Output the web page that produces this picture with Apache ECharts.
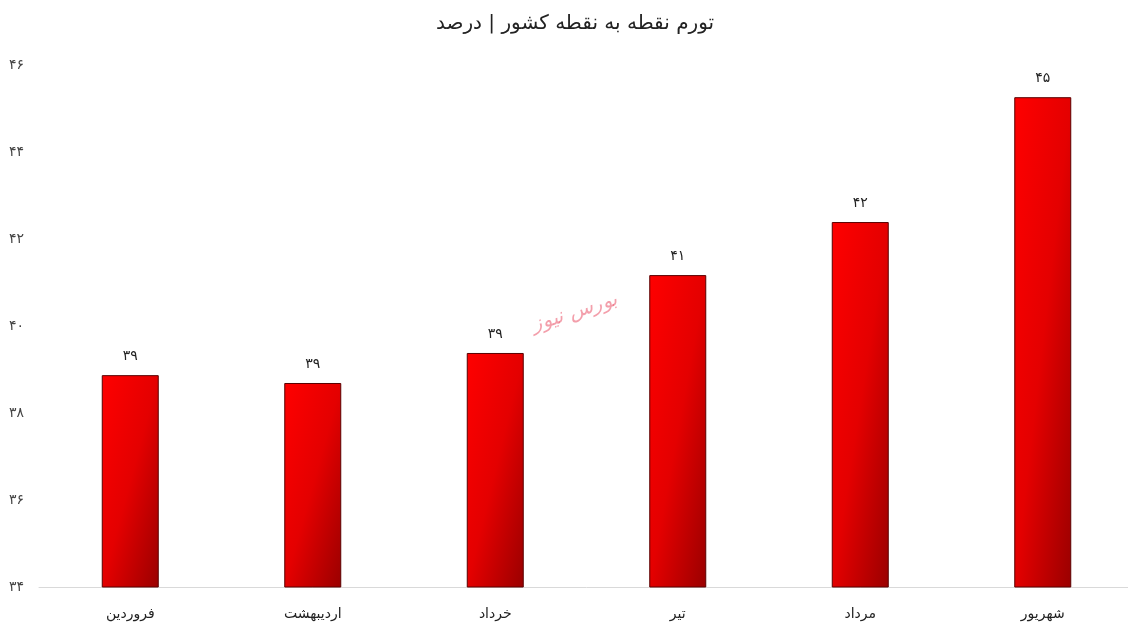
<!DOCTYPE html>
<html><head><meta charset="utf-8">
<script src="https://cdn.jsdelivr.net/npm/echarts@6/dist/echarts.min.js"></script>
<style>html,body{margin:0;padding:0;background:#fff;overflow:hidden}#c{width:1134px;height:639px}</style>
</head><body><div id="c"></div>
<script>
const titleText = 'تورم نقطه به نقطه کشور | درصد';
const categories = ['فروردین','اردیبهشت','خرداد','تیر','مرداد','شهریور'];
const values = [38.87, 38.69, 39.38, 41.17, 42.39, 45.26];
const yMin = 34, yMax = 46, yStep = 2;
const watermark = 'بورس نیوز';

const fa = s => String(s).replace(/\d/g, d => '۰۱۲۳۴۵۶۷۸۹'[d]);
const FONT = 'Tahoma, "DejaVu Sans", sans-serif';
const BAR_W = 57;

const chart = echarts.init(document.getElementById('c'), null, {renderer:'canvas'});
function grad(h){
  const w = BAR_W;
  const a = 1/(w*w), b = 1/(h*h);
  const k = 2/(a+b);
  return new echarts.graphic.LinearGradient(0,0,k*a,k*b,[
    {offset:0,color:'#ff0000'},{offset:0.5,color:'#e40000'},{offset:1,color:'#9a0000'}]);
}
const option = {
  animation:false,
  backgroundColor:'#fff',
  title:{text:titleText,left:570,textAlign:'center',top:9,textStyle:{fontFamily:FONT,fontSize:20,fontWeight:'normal',color:'#222'}},
  grid:{left:39,right:0,top:65,bottom:52,containLabel:false},
  xAxis:{type:'category',data:categories,
    axisLine:{lineStyle:{color:'#d9d9d9',width:1}},axisTick:{show:false},
    axisLabel:{fontFamily:FONT,fontSize:14,color:'#222',margin:20}},
  yAxis:{type:'value',min:yMin,max:yMax,interval:yStep,
    axisLine:{show:false},axisTick:{show:false},splitLine:{show:false},
    axisLabel:{fontFamily:FONT,fontSize:14,color:'#444',margin:15,align:'right',formatter:v=>fa(v)}},
  graphic:[{type:'text',left:530,top:290,rotation:0.3,style:{text:watermark,fill:'rgba(235,95,115,0.6)',font:'italic 20px '+FONT}}],
  series:[{type:'bar',data:values,barWidth:BAR_W,
    itemStyle:{borderColor:'#5a0000',borderWidth:1,color:'#e00000'},
    label:{show:true,position:'top',distance:12,fontFamily:FONT,fontSize:14,color:'#222',formatter:p=>fa(Math.round(p.value))}}]
};
chart.setOption(option);
const base = chart.convertToPixel({yAxisIndex:0}, yMin);
option.series[0].data = values.map(v => {
  const h = Math.max(2, base - chart.convertToPixel({yAxisIndex:0}, v));
  return {value:v, itemStyle:{color:grad(h)}};
});
chart.setOption(option);
</script></body></html>
